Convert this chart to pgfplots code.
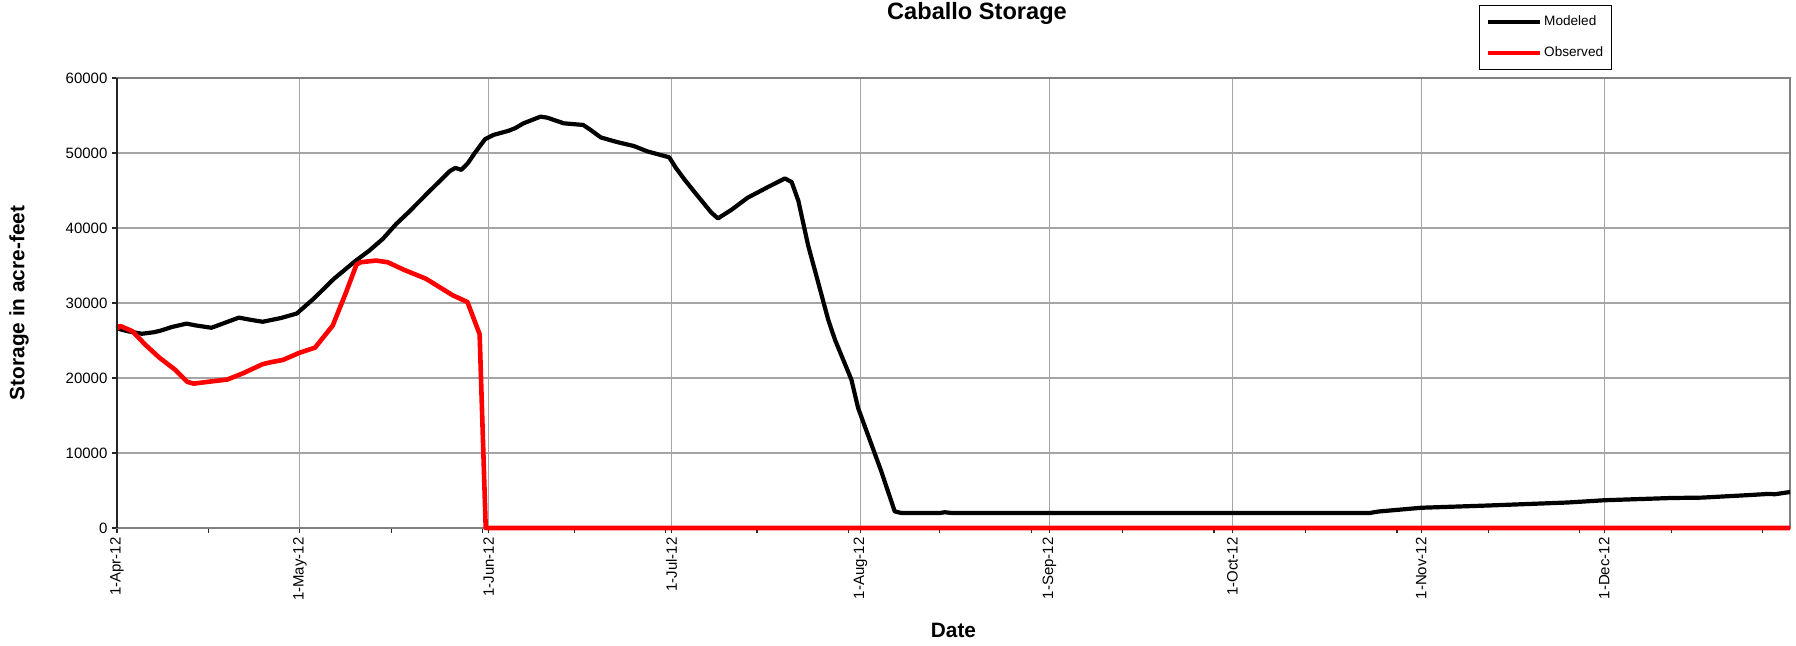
\documentclass[border=0pt]{standalone}
\usepackage{fontspec}
\setmainfont{Liberation Sans}
\usepackage{pgfplots}
\pgfplotsset{compat=1.18}
\definecolor{gridgray}{RGB}{165,165,165}
\definecolor{framegray}{RGB}{128,128,128}
\definecolor{obsred}{RGB}{255,0,0}

\begin{document}
\begin{tikzpicture}
\begin{axis}[
  at={(0pt,0pt)}, anchor=south west,
  scale only axis, width=836.5pt, height=225pt,
  xmin=0, xmax=274.5, ymin=0, ymax=60000,
  clip=false,
  tick pos=left,
  xtick={0,30,61,91,122,153,183,214,244},
  xticklabels={1-Apr-12,1-May-12,1-Jun-12,1-Jul-12,1-Aug-12,1-Sep-12,1-Oct-12,1-Nov-12,1-Dec-12},
  minor xtick={15,45,60,75,90,105,120,135,150,165,180,195,210,225,240,255,270},
  ytick={0,10000,20000,30000,40000,50000,60000},
  xmajorgrids, ymajorgrids,
  major grid style={gridgray, line width=0.6pt},
  tick align=outside,
  major tick length=2.6pt, minor tick length=2.6pt,
  tick style={black!85, line width=0.6pt},
  axis line style={framegray, line width=1pt},
  scaled y ticks=false,
  /pgf/number format/1000 sep={},
  /pgf/number format/assume math mode=true,
  xticklabel style={rotate=90, anchor=east, font=\fontsize{7.5}{9}\selectfont, inner sep=2pt},
  yticklabel style={font=\fontsize{7.5}{9}\selectfont, inner sep=2pt},
  xlabel={Date},
  ylabel={Storage in acre-feet},
  xlabel style={at={(axis description cs:0.5,-0.2267)}, anchor=center, font=\fontsize{10.4}{12}\selectfont\bfseries},
  ylabel style={at={(axis description cs:-0.0585,0.5)}, anchor=center, font=\fontsize{10.4}{12}\selectfont\bfseries},
  legend style={at={(axis description cs:0.8141,1.1622)}, anchor=north west,
    draw=black, line width=0.6pt, fill=white,
    font=\fontsize{6.8}{7.8}\selectfont,
    inner xsep=3pt, inner ysep=4pt, row sep=7pt,
    nodes={inner sep=1pt}},
  legend cell align=left,
  legend image code/.code={\draw[#1] (0pt,0pt) -- (26pt,0pt);},
]
\addplot[black, line width=2.1pt, line join=round] table[row sep=\\] {
x y\\
0 26600\\ 1 26400\\ 2 26200\\ 4.1 25900\\ 6 26100\\ 7.1 26300\\ 9 26800\\ 11.4 27250\\
13 27000\\ 15.5 26700\\ 18 27450\\ 20 28050\\ 22 27750\\ 23.9 27500\\ 26.9 28000\\ 29.5 28600\\
32.3 30600\\ 35.6 33230\\ 39.2 35660\\ 41.4 36990\\ 43.6 38540\\ 45.8 40530\\ 47.8 42070\\
51.3 44930\\ 54.6 47580\\ 55.5 48020\\ 56.5 47750\\ 57.6 48680\\ 58.7 50000\\ 60.4 51850\\
61.8 52420\\ 64.2 52950\\ 65.3 53300\\ 66.7 53960\\ 69.5 54850\\ 70.6 54710\\ 73.3 53960\\
76.5 53740\\ 77.7 53080\\ 79.4 52070\\ 82.1 51450\\ 84.8 50930\\ 87 50220\\ 89 49780\\
90.6 49430\\ 91.7 48020\\ 93.1 46480\\ 94.7 44850\\ 97.5 42070\\ 98.6 41280\\ 100.8 42420\\
103.5 44050\\ 106.8 45460\\ 109.6 46610\\ 110.7 46120\\ 111.8 43610\\ 113.4 37670\\
114.8 33480\\ 116.7 27750\\ 117.8 25110\\ 120.5 19780\\ 121.6 16000\\ 125.4 7560\\
127.6 2220\\ 128.7 2000\\ 135 2000\\ 135.8 2100\\ 137 2000\\ 205.5 2000\\ 207 2200\\
214 2700\\ 225 3000\\ 238 3400\\ 244 3700\\ 255 4000\\ 260 4050\\ 268 4400\\ 271 4550\\
272 4500\\ 274.5 4800\\
};
\addlegendentry{Modeled}
\addplot[obsred, line width=2.3pt, line join=round] table[row sep=\\] {
x y\\
0 26600\\ 0.5 26950\\ 2.5 26250\\ 4.7 24400\\ 6.9 22750\\ 9.6 21060\\ 11.5 19500\\
12.6 19250\\ 15 19500\\ 18.1 19800\\ 20.6 20600\\ 23.9 21850\\ 25.5 22150\\ 27.2 22400\\
29.9 23350\\ 32.5 24050\\ 35.4 27000\\ 37.6 31460\\ 39.3 35130\\ 40 35440\\ 42.5 35660\\
44.4 35440\\ 47.1 34420\\ 50.7 33230\\ 55.1 31020\\ 57.5 30130\\ 59.5 25840\\ 60.5 0\\
274.5 0\\
};
\addlegendentry{Observed}
\draw[black!85, line width=1pt] (rel axis cs:0,0) -- (rel axis cs:0,1);
\end{axis}
\node[anchor=base, inner sep=0pt, font=\fontsize{11.8}{13}\selectfont\bfseries] at (430pt,254.5pt) {Caballo Storage};
\pgfresetboundingbox
\path[use as bounding box] (-58.5pt,-58.5pt) rectangle (839.5pt,264pt);
\end{tikzpicture}
\end{document}
